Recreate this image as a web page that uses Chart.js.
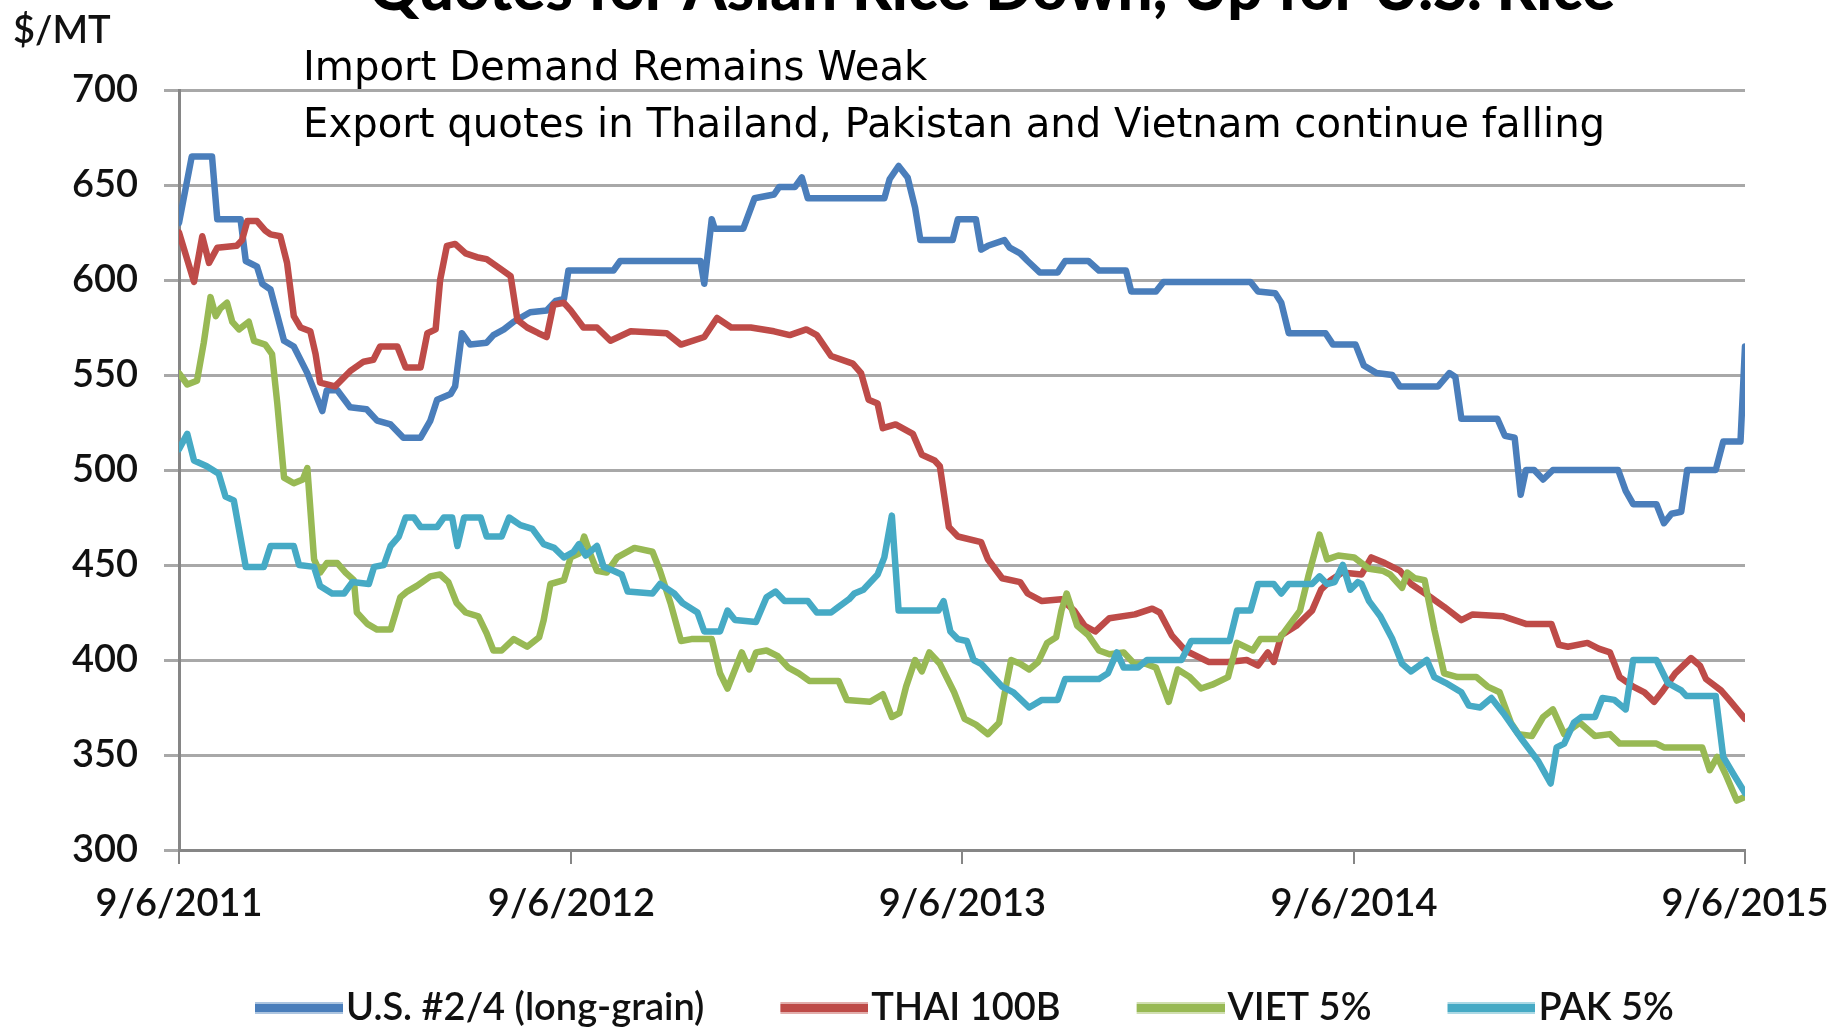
<!DOCTYPE html>
<html>
<head>
<meta charset="utf-8">
<script src="https://cdn.jsdelivr.net/npm/chart.js@4.4.1/dist/chart.umd.min.js"></script>
<style>
  html, body { margin: 0; padding: 0; background: #fff; }
  #wrap { position: relative; width: 1830px; height: 1032px; }
</style>
</head>
<body>
<div id="wrap"><canvas id="chart"></canvas></div>
<script>
/* ── Texts ── */
const chartTitle = "Quotes for Asian Rice Down, Up for U.S. Rice";
const unitLabel = "$/MT";
const subtitleLines = [
  "Import Demand Remains Weak",
  "Export quotes in Thailand, Pakistan and Vietnam continue falling"
];

/* ── X axis: weeks since 9/6/2011, one tick per year ── */
const tickWeeks = [0, 52.3, 104.4, 156.6, 208.7];
const tickLabels = ["9/6/2011", "9/6/2012", "9/6/2013", "9/6/2014", "9/6/2015"];

/* ── Series: [week, $/MT] ── */
const usLongGrain = [[0,630],[1.7,665],[4.4,665],[5.1,632],[8.2,632],[8.9,610],[10.4,607],[11.1,598],[12.2,595],[14,568],[15.3,565],[17.1,551],[18.2,540],[19.1,531],[19.7,542],[21.1,542],[22.8,533],[25,532],[26.4,526],[28.2,524],[29.9,517],[32.2,517],[33.5,526],[34.4,537],[36.2,540],[36.8,544],[37.7,572],[38.8,566],[41,567],[41.9,571],[43.3,574],[44.6,578],[46.8,583],[49,584],[50.2,589],[51.3,590],[51.9,605],[57.9,605],[58.8,610],[69.5,610],[70,598],[71,632],[71.4,627],[75.2,627],[76.7,643],[79.3,645],[80,649],[82.1,649],[83,654],[83.8,643],[94,643],[94.7,653],[95.9,660],[97.1,654],[98.1,638],[98.8,621],[103.1,621],[103.8,632],[106.2,632],[106.9,616],[107.8,618],[110,621],[110.7,617],[112.1,614],[113.1,610],[114.7,604],[117.1,604],[118.1,610],[121.2,610],[122.6,605],[126.2,605],[126.9,594],[130.2,594],[131.2,599],[142.8,599],[143.8,594],[146.1,593],[146.9,588],[147.9,572],[152.8,572],[153.8,566],[156.8,566],[157.9,555],[159.6,551],[161.7,550],[162.7,544],[167.8,544],[169.3,551],[170.1,549],[170.9,527],[175.7,527],[176.7,518],[178,517],[178.8,487],[179.5,500],[180.6,500],[181.8,495],[183.1,500],[191.8,500],[192.8,489],[193.8,482],[196.9,482],[197.9,472],[198.9,477],[200.2,478],[201,500],[204.8,500],[205.8,515],[208.1,515],[208.7,565]];

const thai100B = [[0,625],[2,599],[3.1,623],[4,609],[5.1,617],[7.7,618],[8.4,621],[9.1,631],[10.4,631],[11.5,626],[12.2,624],[13.5,623],[14.4,609],[15.3,581],[16.2,575],[17.5,573],[18.2,561],[18.8,546],[20.8,544],[22.8,552],[24.6,557],[25.9,558],[26.8,565],[29.1,565],[30.2,554],[32.2,554],[33.1,572],[34.2,574],[34.8,600],[35.7,618],[36.8,619],[38.2,614],[39.7,612],[41,611],[42.8,606],[44.2,602],[45.1,579],[46.4,575],[47.9,572],[49,570],[49.9,587],[51.3,588],[52.2,584],[53.9,575],[55.7,575],[57.5,568],[60.2,573],[65,572],[66.9,566],[70,570],[71.7,580],[73.6,575],[76.2,575],[79.3,573],[81.4,571],[83.6,574],[85,571],[86.9,560],[89.8,556],[90.9,551],[91.9,537],[93.1,535],[93.8,522],[95.5,524],[97.8,519],[99,508],[100.7,505],[101.4,502],[102.6,470],[103.8,465],[106.9,462],[107.8,453],[109.7,443],[112.1,441],[113.1,435],[115,431],[117.6,432],[119.3,426],[120.7,418],[122.1,415],[124,422],[127.4,424],[129.7,427],[130.7,425],[132.3,413],[134.1,405],[137.2,399],[139.8,399],[142.3,400],[143.8,397],[145.1,404],[145.9,399],[146.9,413],[148.9,418],[151,426],[152.2,437],[153.5,442],[155,446],[157.6,445],[158.9,454],[160.7,451],[162.7,447],[164.2,440],[166.8,433],[168.6,428],[170.9,421],[172.4,424],[176.5,423],[179.5,419],[182.9,419],[183.9,408],[185.1,407],[187.7,409],[189.2,406],[190.7,404],[192,391],[193.8,386],[195.3,383],[196.6,378],[197.6,383],[199.4,393],[201.5,401],[202.7,397],[203.5,390],[205.5,384],[206.6,379],[208.7,369]];

const viet5 = [[0,551],[1.1,545],[2.4,547],[3.3,567],[4.2,591],[4.9,581],[5.5,585],[6.4,588],[7.1,578],[8,574],[9.3,578],[10,568],[11.5,566],[12.4,561],[13.1,535],[14,496],[15.3,493],[16.5,495],[17.1,501],[18,453],[18.8,446],[19.7,451],[21.1,451],[22.2,446],[23.3,442],[23.7,425],[25.1,419],[26.4,416],[28.2,416],[29.5,433],[30.4,436],[31.7,439],[33.5,444],[34.8,445],[35.9,441],[37,430],[38.2,425],[39.9,423],[41,414],[41.9,405],[43,405],[44.6,411],[46.4,407],[48,412],[48.6,421],[49.5,440],[51.3,442],[52.2,454],[53.3,456],[54,465],[54.8,456],[55.7,447],[57,446],[58.4,454],[60.7,459],[63.1,457],[64.1,447],[65.5,430],[66.9,410],[68.3,411],[71,411],[72.1,393],[73.1,385],[75,404],[76,395],[76.9,404],[78.3,405],[79.8,402],[81.2,396],[82.6,393],[84,389],[87.9,389],[89,379],[92.1,378],[93.8,382],[95,370],[96,372],[96.9,386],[98.1,400],[99,394],[100,404],[101.4,398],[103.3,383],[104.7,369],[106.2,366],[107.8,361],[109.3,367],[110.2,386],[110.9,400],[112.1,398],[113.3,395],[114.5,399],[115.7,409],[116.9,412],[117.6,426],[118.3,435],[119.7,418],[121.2,413],[122.6,405],[124,403],[125.9,404],[127.3,398],[128.8,398],[130.2,396],[131.9,378],[133.1,395],[134.7,391],[136.2,385],[137.7,387],[139.8,391],[141,409],[143.1,405],[144.1,411],[146.6,411],[147.9,418],[149.4,426],[150.5,444],[152,466],[153,453],[154.5,455],[156.6,454],[158.6,448],[160.4,447],[161.4,445],[163,438],[163.7,446],[164.7,443],[166,442],[167.3,416],[168.6,393],[170.4,391],[172.9,391],[174.4,386],[176,383],[177.5,367],[178.5,361],[180.3,360],[181.8,370],[183.1,374],[184.6,361],[186.7,367],[188.7,360],[190.7,361],[192,356],[196.9,356],[197.9,354],[203,354],[204,342],[205,349],[206.1,340],[207.6,326],[208.7,328]];

const pak5 = [[0,511],[1.1,519],[2,505],[3.7,502],[5.3,498],[6.2,486],[7.3,484],[8.9,449],[11.3,449],[12.2,460],[15.3,460],[16,450],[18,449],[18.8,439],[20.4,435],[22,435],[23.1,441],[25.3,440],[26,449],[27.3,450],[28.2,460],[29.3,465],[30.2,475],[31.3,475],[32.2,470],[34.4,470],[35.3,475],[36.4,475],[37.1,460],[38,475],[40.2,475],[41,465],[43,465],[44,475],[45.5,471],[47.1,469],[48.6,461],[50,459],[51.3,454],[52.6,457],[53.3,461],[54.2,455],[55.7,460],[56.6,449],[57.9,447],[59,445],[59.8,436],[63.1,435],[64.1,440],[66,435],[67.1,430],[69.1,425],[70,415],[72.1,415],[73.1,426],[74.1,421],[76.9,420],[78.3,433],[79.5,436],[80.7,431],[83.8,431],[85,425],[86.9,425],[87.9,428],[89.3,432],[90,435],[91.2,437],[93.1,445],[94,454],[95,476],[95.9,426],[101.2,426],[101.9,431],[102.8,415],[103.8,411],[105,410],[105.9,400],[106.9,398],[109.7,386],[111.2,383],[113.3,375],[115,379],[117.1,379],[118.1,390],[122.6,390],[123.8,393],[125,404],[125.9,396],[127.8,396],[129,400],[133.6,400],[134.9,410],[140,410],[141,426],[142.8,426],[143.8,440],[145.9,440],[146.9,435],[147.9,440],[151,440],[152,444],[153,440],[154,441],[155.1,450],[156.1,437],[157.1,441],[157.6,440],[158.6,431],[160.1,423],[161.7,411],[163,398],[164.2,394],[166.3,400],[167.3,391],[168.8,388],[170.9,383],[171.9,376],[173.4,375],[174.9,380],[176.5,372],[179,358],[181.1,347],[182.8,335],[183.6,354],[184.6,356],[185.9,367],[186.9,370],[188.7,370],[189.7,380],[191.3,379],[192.8,374],[193.8,400],[196.9,400],[198.4,388],[200.2,384],[200.9,381],[204.8,381],[205.8,349],[207.3,339],[208.7,330]];

const seriesNames = ["U.S. #2/4 (long-grain)", "THAI 100B", "VIET 5%", "PAK 5%"];
const seriesColors = ["#4a7ebb", "#be4b48", "#98b954", "#46aac5"];

/* ── Title, unit and notes drawn on top ── */
const notesPlugin = {
  id: "notes",
  afterDraw(chart) {
    const ctx = chart.ctx;
    ctx.save();
    ctx.fillStyle = "#000";
    ctx.textBaseline = "alphabetic";
    ctx.textAlign = "center";
    ctx.font = "900 62px Lato";
    ctx.fillText(chartTitle, 992, 10);
    ctx.textAlign = "left";
    ctx.fillStyle = "#111";
    ctx.font = "600 38px Lato";
    ctx.fillText(unitLabel, 13, 43);
    ctx.fillStyle = "#000";
    ctx.font = '40.2px "DejaVu Sans"';
    subtitleLines.forEach((line, i) => ctx.fillText(line, 303, 80 + i * 57));
    ctx.restore();
  }
};

/* ── Legend key: 88px thick line at the right end of a wider box,
      so it sits just before its label like the Excel key ── */
const keyBox = 140;
function swatch(color) {
  const c = document.createElement("canvas");
  c.width = keyBox + 32; c.height = 14;
  const g = c.getContext("2d");
  const x0 = c.width - 88;
  g.fillStyle = color;
  g.globalAlpha = 0.45;
  g.fillRect(x0, 1, 88, 12);
  g.globalAlpha = 1;
  g.fillRect(x0, 3, 88, 8);
  return c;
}

const toPoints = arr => arr.map(([x, y]) => ({ x, y }));

const datasets = [usLongGrain, thai100B, viet5, pak5].map((pts, i) => ({
  label: seriesNames[i],
  data: toPoints(pts),
  borderColor: seriesColors[i],
  backgroundColor: seriesColors[i],
  borderWidth: 6.5,
  pointRadius: 0,
  tension: 0,
  borderJoinStyle: "round",
  borderCapStyle: "round",
  order: 4 - i // later series drawn on top, like the original
}));

Chart.defaults.font.family = "Lato";
Chart.defaults.font.weight = "600";
Chart.defaults.color = "#111";

new Chart(document.getElementById("chart"), {
  type: "line",
  data: { datasets },
  options: {
    responsive: true,
    maintainAspectRatio: false,
    animation: false,
    layout: { padding: { top: 90, right: 85, left: 0, bottom: -5 } },
    plugins: {
      tooltip: { enabled: false },
      legend: {
        position: "bottom",
        align: "start",
        fullSize: false,
        labels: {
          usePointStyle: true,
          pointStyleWidth: keyBox,
          padding: 8,
          font: { size: 38 },
          color: "#111",
          sort: (a, b) => a.datasetIndex - b.datasetIndex,
          generateLabels(chart) {
            const items = Chart.defaults.plugins.legend.labels.generateLabels(chart);
            items.forEach(it => { it.lineWidth = 0; it.pointStyle = swatch(seriesColors[it.datasetIndex]); });
            return items;
          }
        }
      }
    },
    scales: {
      x: {
        type: "linear",
        min: 0,
        max: tickWeeks[tickWeeks.length - 1],
        afterBuildTicks: axis => { axis.ticks = tickWeeks.map(v => ({ value: v })); },
        afterFit: scale => {
          scale.height = 131;
          scale.paddingLeft = 0;
          scale.paddingRight = 0;
        },
        ticks: {
          autoSkip: false,
          maxRotation: 0,
          padding: 17,
          font: { size: 38 },
          color: "#111",
          callback: (v, i) => tickLabels[i]
        },
        grid: { drawOnChartArea: false, drawTicks: true, tickLength: 14, color: "#868686", lineWidth: 2 },
        border: { display: true, color: "#868686", width: 3 }
      },
      y: {
        min: 300,
        max: 700,
        afterFit: scale => { scale.width = 179; },
        ticks: { stepSize: 50, padding: 26, font: { size: 38 }, color: "#111" },
        grid: { color: "#a8a8a8", lineWidth: 3, tickLength: 15 },
        border: { display: true, color: "#868686", width: 3 }
      }
    }
  },
  plugins: [notesPlugin]
});
</script>
</body>
</html>
